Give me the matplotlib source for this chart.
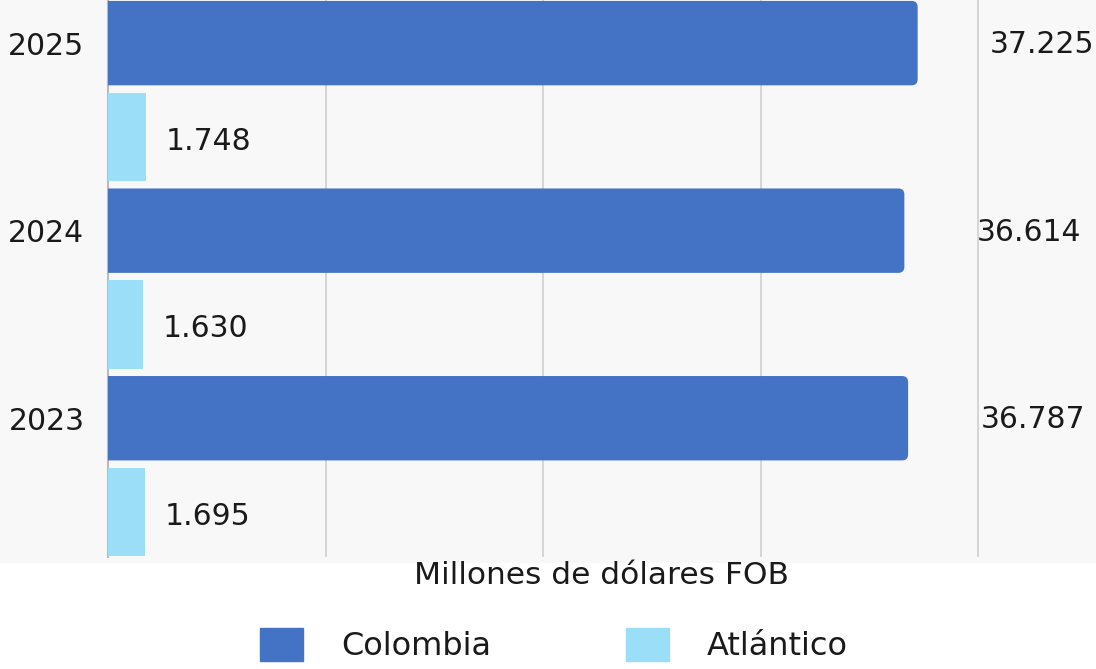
import matplotlib
matplotlib.use("Agg")
import matplotlib.pyplot as plt
from matplotlib.patches import FancyBboxPatch, Rectangle
import numpy as np

plt.rcParams['font.family'] = ['DejaVu Sans']

# datos (millones de dólares FOB)
years = ['2023', '2024', '2025']
colombia = [36787, 36614, 37225]
atlantico = [1695, 1630, 1748]

def fmt(v):
    return f"{v:,}".replace(",", ".")

col_color = '#4472C4'
atl_color = '#9ADFF7'
txt_color = '#1a1a1a'
fs = 21.5

fig = plt.figure(figsize=(10.96, 6.69), dpi=100)
fig.patch.set_facecolor('white')
# fondo gris claro de la zona del gráfico
fig.patches.append(Rectangle((0, 1 - 563 / 669), 1, 563 / 669, transform=fig.transFigure,
                             facecolor='#f8f8f8', edgecolor='none', zorder=-10))

ax = fig.add_axes([108 / 1096, 1 - 557 / 669, 1 - 108 / 1096, 557 / 669])
ax.set_facecolor('none')

y = np.arange(len(years))
bars_c = ax.barh(y + 0.25, colombia, height=0.45, color=col_color, zorder=3)
bars_a = ax.barh(y - 0.25, atlantico, height=0.47, color=atl_color, zorder=3)

ax.set_xlim(0, 45425)
ax.set_ylim(-0.49, 2.48)

# esquinas redondeadas para las barras de Colombia
px_x = 45425 / 988
px_y = 2.97 / 557
for b in bars_c:
    b.set_visible(False)
    x0, y0, w, hh = b.get_x(), b.get_y(), b.get_width(), b.get_height()
    p = FancyBboxPatch((x0 - 600, y0), w + 600, hh,
                       boxstyle=f"round,pad=0,rounding_size={6 * px_x}",
                       mutation_aspect=px_y / px_x,
                       facecolor=col_color, edgecolor='none', zorder=3)
    ax.add_patch(p)

for b, v in zip(bars_c, colombia):
    ax.annotate(fmt(v), (b.get_width(), b.get_y() + b.get_height() / 2),
                xytext=(52, -1), textcoords='offset points', ha='left', va='center',
                fontsize=fs, color=txt_color, annotation_clip=False)
for b, v in zip(bars_a, atlantico):
    ax.annotate(fmt(v), (b.get_width(), b.get_y() + b.get_height() / 2),
                xytext=(14, -3), textcoords='offset points', ha='left', va='center',
                fontsize=fs, color=txt_color, annotation_clip=False)

ax.set_yticks(y + 0.25)
ax.set_yticklabels(years, fontsize=fs, color=txt_color)
ax.tick_params(axis='y', length=0, pad=17)
ax.set_xticks([10000, 20000, 30000, 40000])
ax.tick_params(axis='x', length=0, labelbottom=False)
ax.grid(axis='x', color='#d0d0d0', linewidth=1.2, zorder=0)
ax.set_axisbelow(True)

for s in ['top', 'right', 'bottom']:
    ax.spines[s].set_visible(False)
ax.spines['left'].set_color('#bbbbbb')
ax.spines['left'].set_linewidth(1.5)

ax.set_xlabel('Millones de dólares FOB', fontsize=22.5, color=txt_color, labelpad=3)

handles = [Rectangle((0, 0), 1, 1, color=col_color), Rectangle((0, 0), 1, 1, color=atl_color)]
fig.legend(handles, ['Colombia', 'Atlántico'], loc='center', bbox_to_anchor=(554 / 1096, 1 - 645 / 669),
           ncol=2, frameon=False, fontsize=23, handlelength=1.35, handleheight=1.25,
           handletextpad=1.2, columnspacing=4.2, labelcolor=txt_color)

fig.savefig('out.png', dpi=100, facecolor='white')
